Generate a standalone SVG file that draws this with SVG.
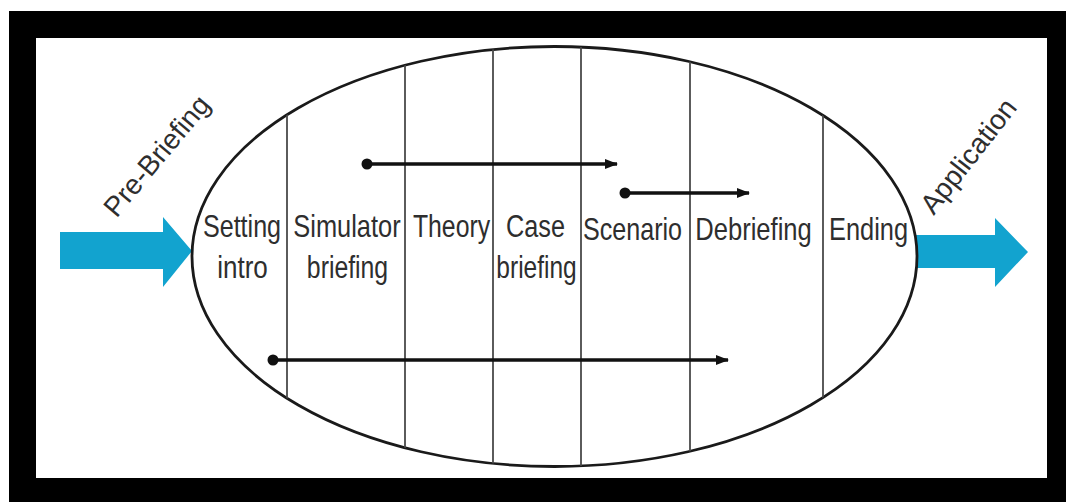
<svg xmlns="http://www.w3.org/2000/svg" width="1066" height="502" viewBox="0 0 1066 502">
  <style>
    .lbl { font-family: "Liberation Sans", Arial, sans-serif; font-size: 31px; fill: #2e2e2e; text-anchor: middle; }
    .rot { font-family: "Liberation Sans", Arial, sans-serif; font-size: 28px; fill: #2e2e2e; text-anchor: middle; }
    .div { stroke: #4a4a4a; stroke-width: 1.8; fill: none; }
    .flow { stroke: #111; stroke-width: 3.5; fill: none; }
    .blue { fill: #12a3cf; }
  </style>
  <defs>
    <marker id="head" markerWidth="13" markerHeight="12" refX="12" refY="6" orient="auto" markerUnits="userSpaceOnUse">
      <path d="M0,1 L13,6 L0,11 z" fill="#111"/>
    </marker>
    <marker id="dot" markerWidth="12" markerHeight="12" refX="6" refY="6" orient="auto" markerUnits="userSpaceOnUse">
      <circle cx="6" cy="6" r="5.5" fill="#111"/>
    </marker>
    <clipPath id="ellClip">
      <ellipse cx="554.5" cy="256.5" rx="362.5" ry="210"/>
    </clipPath>
  </defs>

  <!-- frame -->
  <rect x="0" y="0" width="1066" height="502" fill="#fff"/>
  <rect x="9" y="11" width="1057" height="491" fill="#000"/>
  <rect x="36" y="38" width="1011" height="440" fill="#fff"/>

  <!-- blue arrows -->
  <g id="pre-arrow">
    <polygon class="blue" points="60,232 163,232 163,217 192,251 163,287 163,269 60,269"/>
  </g>
  <g id="post-arrow">
    <polygon class="blue" points="912,235 995,235 995,218 1028,252 995,287 995,268 912,268"/>
  </g>

  <!-- ellipse and dividers -->
  <g id="ellipse">
    <ellipse cx="554.5" cy="256.5" rx="362.5" ry="210" fill="#fff" stroke="#1a1a1a" stroke-width="2.8"/>
  </g>
  <g id="dividers" clip-path="url(#ellClip)">
    <line class="div" x1="287" y1="40" x2="287" y2="470"/>
    <line class="div" x1="405" y1="40" x2="405" y2="470"/>
    <line class="div" x1="493" y1="40" x2="493" y2="470"/>
    <line class="div" x1="581" y1="40" x2="581" y2="470"/>
    <line class="div" x1="690" y1="40" x2="690" y2="470"/>
    <line class="div" x1="823" y1="40" x2="823" y2="470"/>
  </g>

  <!-- phase labels -->
  <g id="setting-intro">
    <text class="lbl" transform="translate(242,237) scale(0.81,1)">Setting</text>
    <text class="lbl" transform="translate(242.5,278) scale(0.84,1)">intro</text>
  </g>
  <g id="simulator-briefing">
    <text class="lbl" transform="translate(347,237) scale(0.82,1)">Simulator</text>
    <text class="lbl" transform="translate(347.5,278) scale(0.8,1)">briefing</text>
  </g>
  <g id="theory">
    <text class="lbl" transform="translate(451.5,237) scale(0.8,1)">Theory</text>
  </g>
  <g id="case-briefing">
    <text class="lbl" transform="translate(535.5,237) scale(0.815,1)">Case</text>
    <text class="lbl" transform="translate(536.5,278) scale(0.79,1)">briefing</text>
  </g>
  <g id="scenario">
    <text class="lbl" transform="translate(632.5,240) scale(0.81,1)">Scenario</text>
  </g>
  <g id="debriefing">
    <text class="lbl" transform="translate(753.5,240) scale(0.825,1)">Debriefing</text>
  </g>
  <g id="ending">
    <text class="lbl" transform="translate(868.5,240) scale(0.82,1)">Ending</text>
  </g>

  <!-- rotated labels -->
  <g id="pre-briefing">
    <text class="rot" transform="translate(164,162) rotate(-50)">Pre-Briefing</text>
  </g>
  <g id="application">
    <text class="rot" transform="translate(976,162) rotate(-52)">Application</text>
  </g>

  <!-- connectors -->
  <g id="connectors">
    <line class="flow" x1="367" y1="164" x2="617" y2="164" marker-start="url(#dot)" marker-end="url(#head)"/>
    <line class="flow" x1="625" y1="193" x2="749" y2="193" marker-start="url(#dot)" marker-end="url(#head)"/>
    <line class="flow" x1="273" y1="360" x2="728" y2="360" marker-start="url(#dot)" marker-end="url(#head)"/>
  </g>
</svg>
